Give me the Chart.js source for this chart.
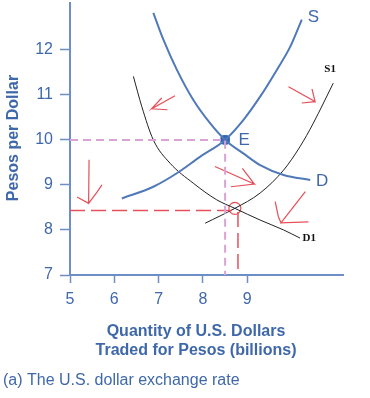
<!DOCTYPE html>
<html>
<head>
<meta charset="utf-8">
<script src="https://cdn.jsdelivr.net/npm/chart.js@4"></script>
<style>
  html, body { margin: 0; padding: 0; background: #fff; }
  canvas { display: block; }
</style>
</head>
<body>
<canvas id="myChart" width="370" height="398"></canvas>
<script>
// axis ticks
const xTicks = [5, 6, 7, 8, 9];
const yTicks = [7, 8, 9, 10, 11, 12];

// original supply and demand (blue)
const sX = [6.17, 6.88, 7.41, 7.94, 8.5, 8.91, 9.29, 9.67, 9.97, 10.23];
const sY = [8.70, 8.96, 9.26, 9.63, 10.0, 10.44, 10.96, 11.56, 12.07, 12.67];
const dX = [6.88, 7.11, 7.41, 7.78, 8.16, 8.5, 8.91, 9.29, 9.82, 10.42];
const dY = [12.82, 12.22, 11.56, 10.89, 10.37, 10.0, 9.70, 9.44, 9.22, 9.11];

// shifted curves (black)
const s1X = [8.05, 8.72, 9.29, 9.82, 10.19, 10.49, 10.72, 10.94];
const s1Y = [8.15, 8.48, 8.82, 9.33, 9.85, 10.37, 10.82, 11.26];
const d1X = [6.43, 6.62, 6.88, 7.26, 7.78, 8.31, 8.72, 9.29, 9.82, 10.19];
const d1Y = [11.41, 10.74, 10.0, 9.48, 9.04, 8.67, 8.48, 8.22, 8.0, 7.82];

// equilibrium points
const eqE = [8.5, 10];
const eqNew = [8.72, 8.48];

// guide lines
const pinkX = [5, 8.5, 8.5];
const pinkY = [10, 10, 7];
const redHX = [5, 8.68];
const redHY = [8.43, 8.43];
const redVX = [8.79, 8.79];
const redVY = [8.4, 7];

// hand drawn arrows (tail, tip, heads)
const arrow1 = [[7.37, 10.98], [6.84, 10.69], [7.07, 10.93], [6.84, 10.69], [7.2, 10.67]];
const arrow2 = [[9.93, 11.18], [10.53, 10.85], [10.46, 11.13], [10.53, 10.85], [10.23, 10.82]];
const arrow3 = [[8.27, 9.41], [9.16, 9.02], [8.89, 9.37], [9.16, 9.02], [8.63, 8.96]];
const arrow4 = [[5.43, 9.56], [5.42, 8.59], [5.16, 8.73], [5.42, 8.59], [5.61, 8.84], [5.72, 9.0]];
const arrow5 = [[9.63, 8.63], [9.7, 8.3], [9.76, 8.16], [10.31, 8.85], [9.76, 8.16], [10.38, 8.18]];

// curve labels
const curveLabels = [
    { text: 'S', x: 10.49, y: 12.73, kind: 'blue' },
    { text: 'E', x: 8.93, y: 9.98, kind: 'blue' },
    { text: 'D', x: 10.69, y: 9.07, kind: 'blue' },
    { text: 'S1', x: 10.87, y: 11.56, kind: 'black' },
    { text: 'D1', x: 10.4, y: 7.82, kind: 'black' },
];

const axisColor = '#6d8fc6';
const textColor = '#3f68aa';
const curveBlue = '#5079b9';
const redColor = '#e6505a';

function pts(xs, ys) {
    return xs.map((x, i) => ({ x: x, y: ys[i] }));
}
function pairPts(arr) {
    return arr.map(p => ({ x: p[0], y: p[1] }));
}

function curve(data, color, width) {
    return {
        data: data, showLine: true, borderColor: color, borderWidth: width,
        pointRadius: 0, cubicInterpolationMode: 'monotone', fill: false,
    };
}
function straight(data, color, width, dash) {
    return {
        data: data, showLine: true, borderColor: color, borderWidth: width,
        borderDash: dash || [], pointRadius: 0, tension: 0, fill: false,
    };
}

// no extra padding for the tick labels at the ends
function noPad(s) {
    s.paddingTop = 0;
    s.paddingBottom = 0;
    s.paddingLeft = 0;
    s.paddingRight = 0;
}

// draw labels and titles on top of the chart
const textPlugin = {
    id: 'texts',
    afterDraw(chart) {
        const c = chart.ctx;
        const xs = chart.scales.x;
        const ys = chart.scales.y;
        c.save();
        curveLabels.forEach(l => {
            if (l.kind === 'blue') {
                c.font = '17px "Liberation Sans", Arial, sans-serif';
                c.fillStyle = textColor;
            } else {
                c.font = 'bold 11px "Liberation Serif", "Times New Roman", serif';
                c.fillStyle = '#111';
            }
            c.textAlign = 'center';
            c.textBaseline = 'middle';
            c.fillText(l.text, xs.getPixelForValue(l.x), ys.getPixelForValue(l.y));
        });

        c.fillStyle = textColor;
        c.font = 'bold 16px "Liberation Sans", Arial, sans-serif';
        c.textAlign = 'center';
        c.fillText('Quantity of U.S. Dollars', 196, 332);
        c.fillText('Traded for Pesos (billions)', 196, 351);

        c.font = '16px "Liberation Sans", Arial, sans-serif';
        c.textAlign = 'left';
        c.fillText('(a) The U.S. dollar exchange rate', 3, 381);

        c.translate(14, 138);
        c.rotate(-Math.PI / 2);
        c.font = 'bold 16px "Liberation Sans", Arial, sans-serif';
        c.textAlign = 'center';
        c.fillText('Pesos per Dollar', 0, 0);
        c.restore();
    }
};

const ctx = document.getElementById('myChart').getContext('2d');

const myChart = new Chart(ctx, {
    type: 'scatter',
    data: {
        datasets: [
            straight(pts(pinkX, pinkY), '#d9a3d6', 2, [8, 5]),
            straight(pts(redHX, redHY), redColor, 1.5, [15, 6]),
            straight(pts(redVX, redVY), redColor, 1.5, [15, 6]),
            curve(pts(sX, sY), curveBlue, 2),
            curve(pts(dX, dY), curveBlue, 2),
            curve(pts(s1X, s1Y), '#222', 1),
            curve(pts(d1X, d1Y), '#222', 1),
            straight(pairPts(arrow1), redColor, 1.2),
            straight(pairPts(arrow2), redColor, 1.2),
            straight(pairPts(arrow3), redColor, 1.2),
            straight(pairPts(arrow4), redColor, 1.2),
            straight(pairPts(arrow5), redColor, 1.2),
            {
                data: [{ x: eqE[0], y: eqE[1] }],
                pointRadius: 5, pointStyle: 'rectRounded',
                pointBackgroundColor: '#2f64b4', pointBorderColor: '#2f64b4',
            },
            {
                data: [{ x: eqNew[0], y: eqNew[1] }],
                pointRadius: 6, pointBackgroundColor: 'rgba(0,0,0,0)',
                pointBorderColor: redColor, pointBorderWidth: 1.2,
            },
        ],
    },
    options: {
        responsive: false,
        animation: false,
        layout: { autoPadding: false, padding: { left: 0, top: 3, right: 27, bottom: 0 } },
        plugins: {
            legend: { display: false },
            tooltip: { enabled: false },
        },
        scales: {
            x: {
                type: 'linear',
                min: 5,
                max: 11.16,
                afterBuildTicks: s => { s.ticks = xTicks.map(v => ({ value: v })); },
                afterFit: s => { s.height = 123; noPad(s); },
                grid: { drawOnChartArea: false, drawTicks: true, tickLength: 8, tickColor: axisColor, tickWidth: 1.5 },
                border: { display: true, color: axisColor, width: 2 },
                ticks: { color: textColor, padding: 7, font: { family: '"Liberation Sans", Arial, sans-serif', size: 16 } },
            },
            y: {
                type: 'linear',
                min: 7,
                max: 13.04,
                afterBuildTicks: s => { s.ticks = yTicks.map(v => ({ value: v })); },
                afterFit: s => { s.width = 70; noPad(s); },
                grid: { drawOnChartArea: false, drawTicks: true, tickLength: 10, tickColor: axisColor, tickWidth: 1.5 },
                border: { display: true, color: axisColor, width: 2 },
                ticks: { color: textColor, padding: 7, font: { family: '"Liberation Sans", Arial, sans-serif', size: 16 } },
            },
        },
    },
    plugins: [textPlugin],
});
</script>
</body>
</html>
